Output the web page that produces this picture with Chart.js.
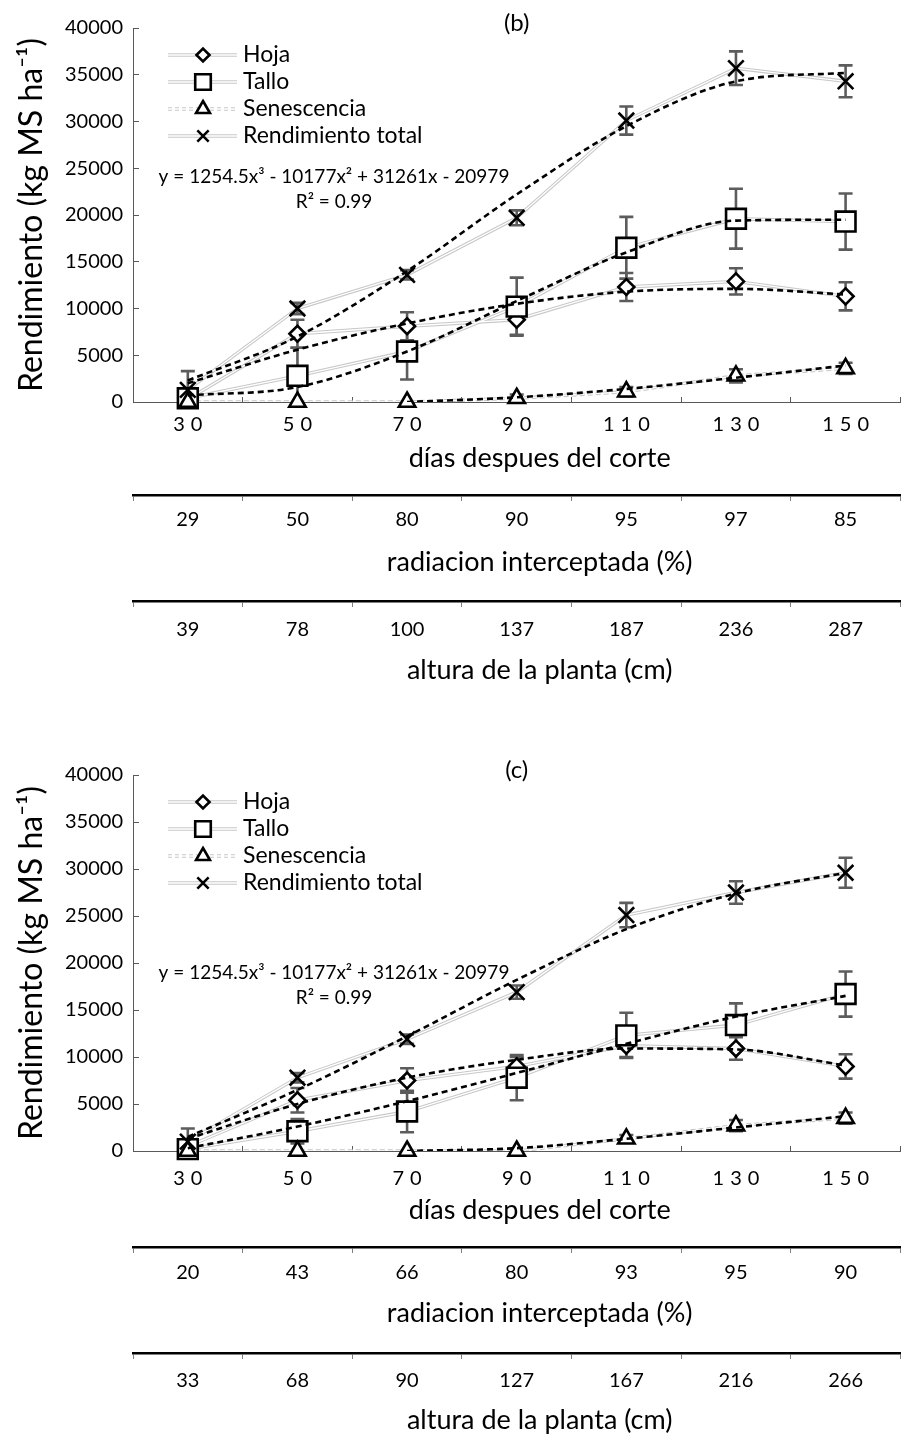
<!DOCTYPE html>
<html><head><meta charset="utf-8">
<script src="https://cdn.jsdelivr.net/npm/chart.js@4.4.1/dist/chart.umd.min.js"></script>
<style>
html,body{margin:0;padding:0;background:#fff;}
.box{position:relative;width:917px;height:719px;}
</style></head><body>
<div class="box"><canvas id="cb"></canvas></div>
<div class="box"><canvas id="cc"></canvas></div>
<script>
const FONT = "Lato, 'Open Sans', 'DejaVu Sans', sans-serif";

// ---- data ----
const categories = ['30','50','70','90','110','130','150'];
const radiacionB = ['29','50','80','90','95','97','85'];
const alturaB    = ['39','78','100','137','187','236','287'];
const radiacionC = ['20','43','66','80','93','95','90'];
const alturaC    = ['33','68','90','127','167','216','266'];
const seriesNames = ['Hoja','Tallo','Senescencia','Rendimiento total'];
const yMin = 0, yMax = 40000, yStep = 5000;
const equationText = 'y = 1254.5x³ - 10177x² + 31261x - 20979';
const r2Text = 'R² = 0.99';

// panel (b)
const hojaB        = [300, 7300, 8100, 8800, 12300, 12900, 11300];
const hojaErrB     = [500, 1500, 1500, 1600, 1500, 1400, 1500];
const talloB       = [400, 2800, 5400, 10200, 16500, 19600, 19300];
const talloErrB    = [300, 3000, 3000, 3100, 3300, 3200, 3000];
const senB         = [0, 0, 0, 400, 1100, 2800, 3600];
const senErrB      = [0, 0, 0, 400, 500, 700, 600];
const totalB       = [1300, 10000, 13600, 19700, 30100, 35700, 34300];
const totalErrB    = [2000, 600, 500, 800, 1500, 1800, 1700];
const trendHojaB   = [2000, 5600, 8400, 10500, 11800, 12100, 11500];
const trendTalloB  = [700, 1600, 5400, 10800, 16000, 19400, 19500];
const trendSenB    = [null, null, 0, 500, 1400, 2600, 3900];
const trendTotalB  = [2300, 7000, 14000, 22200, 29500, 34300, 35200];

// panel (c)
const hojaC        = [500, 5400, 7500, 9000, 11200, 10900, 9000];
const hojaErrC     = [400, 1300, 1300, 1000, 1200, 1200, 1300];
const talloC       = [200, 2100, 4200, 7800, 12300, 13400, 16700];
const talloErrC    = [300, 1300, 2200, 2400, 2400, 2300, 2400];
const senC         = [0, 0, 0, 0, 1300, 2700, 3500];
const senErrC      = [0, 0, 0, 0, 400, 600, 600];
const totalC       = [1000, 7800, 11900, 16900, 25100, 27500, 29600];
const totalErrC    = [1400, 500, 500, 700, 1300, 1200, 1600];
const trendHojaC   = [1300, 5000, 7800, 9700, 10900, 10800, 9100];
const trendTalloC  = [300, 2600, 5300, 8300, 11400, 14300, 16500];
const trendSenC    = [null, null, 0, 300, 1300, 2500, 3700];
const trendTotalC  = [1500, 6500, 12200, 18200, 23600, 27400, 29600];

// ---- styles ----
const pointStyles = ['rectRot', 'rect', 'triangle', 'crossRot'];
const pointRadii  = [8, 14, 9.5, 11];
const legendRadii = [6.5, 11, 8, 8];

function buildDatasets(vals, errs, trends) {
  const ds = [];
  for (let i = 0; i < 4; i++) {
    const dash = i === 2 ? [5, 3] : [];
    ds.push({ label: seriesNames[i], data: vals[i], borderColor: '#c8c8c8', borderWidth: 3.4,
      borderDash: dash, pointRadius: 0, pointHoverRadius: 0, order: 6, role: 'raw' });
    ds.push({ label: seriesNames[i], data: vals[i], borderColor: '#ffffff', borderWidth: 1.3,
      borderDash: dash, pointRadius: 0, pointHoverRadius: 0, order: 5, role: 'rawInner' });
    ds.push({ label: seriesNames[i], data: vals[i], showLine: false, pointStyle: pointStyles[i],
      pointRadius: pointRadii[i], pointHoverRadius: pointRadii[i], pointBorderColor: '#000',
      pointBackgroundColor: '#fff', pointBorderWidth: 2.6, order: 3 - i * 0.1, clip: false,
      errors: errs[i], role: 'marker' });
    ds.push({ label: seriesNames[i], data: trends[i], borderColor: '#000', borderWidth: 2.6,
      borderDash: [6, 4], pointRadius: 0, pointHoverRadius: 0, cubicInterpolationMode: 'monotone',
      order: 1, role: 'trend' });
  }
  return ds;
}

const errorBarPlugin = {
  id: 'errbars',
  beforeDatasetsDraw(chart) { chart.$ebDone = false; },
  beforeDatasetDraw(chart, args) {
    if (chart.$ebDone) return;
    const d0 = chart.data.datasets[args.index];
    if (!d0.errors) return;
    chart.$ebDone = true;
    const { ctx, chartArea } = chart;
    const xs = chart.scales.x, ys = chart.scales.y;
    ctx.save();
    ctx.beginPath();
    ctx.rect(chartArea.left, chartArea.top - 20, chartArea.width, chartArea.height + 20);
    ctx.clip();
    ctx.strokeStyle = '#5c5c5c';
    ctx.lineWidth = 2.6;
    chart.data.datasets.forEach(d => {
      if (!d.errors) return;
      d.data.forEach((v, j) => {
        const e = d.errors[j];
        if (!e) return;
        const px = xs.getPixelForValue(j);
        const top = ys.getPixelForValue(v + e);
        const bot = ys.getPixelForValue(Math.max(v - e, 0));
        ctx.beginPath();
        ctx.moveTo(px, top); ctx.lineTo(px, bot);
        ctx.moveTo(px - 7, top); ctx.lineTo(px + 7, top);
        if (v - e > 0) { ctx.moveTo(px - 7, bot); ctx.lineTo(px + 7, bot); }
        ctx.stroke();
      });
    });
    ctx.restore();
  }
};

const decorPlugin = {
  id: 'decor',
  beforeDraw(chart) {
    const s = chart.scales.x;
    if (s && !s.$patched) {
      const orig = s.drawLabels;
      s.drawLabels = function (ca) {
        const c = this.ctx; c.save(); c.letterSpacing = '6px'; c.translate(3, 0); orig.call(this, ca); c.restore();
      };
      s.$patched = true;
    }
    ['x', 'x2', 'x3'].forEach(id => {
      const sc = chart.scales[id];
      if (sc && !sc.$titlePatched) {
        const origT = sc.drawTitle;
        sc.drawTitle = function () {
          const c = this.ctx; c.save(); c.translate(23, 0); origT.call(this); c.restore();
        };
        sc.$titlePatched = true;
      }
    });
  },
  afterDraw(chart, args, opts) {
    const { ctx, chartArea } = chart;
    ctx.save();
    // panel label
    ctx.fillStyle = '#000';
    ctx.font = "24px " + FONT;
    ctx.textAlign = 'center';
    ctx.textBaseline = 'middle';
    ctx.fillText(opts.panel, (chartArea.left + chartArea.right) / 2, chartArea.top - 5);
    // equation
    ctx.font = "19px " + FONT;
    ctx.fillText(equationText, 334, chartArea.top + opts.eqY);
    ctx.fillText(r2Text, 334, chartArea.top + opts.eqY + 25);
    // legend
    for (let i = 0; i < 4; i++) {
      const y = chartArea.top + 27 + 27 * i;
      const dash = i === 2 ? [4, 3] : [];
      ctx.setLineDash(dash);
      ctx.strokeStyle = '#c8c8c8'; ctx.lineWidth = 3.4;
      ctx.beginPath(); ctx.moveTo(168, y); ctx.lineTo(237, y); ctx.stroke();
      ctx.strokeStyle = '#fff'; ctx.lineWidth = 1.3;
      ctx.beginPath(); ctx.moveTo(168, y); ctx.lineTo(237, y); ctx.stroke();
      ctx.setLineDash([]);
      ctx.fillStyle = '#fff'; ctx.strokeStyle = '#000'; ctx.lineWidth = 2.6;
      Chart.helpers.drawPoint(ctx, { pointStyle: pointStyles[i], radius: legendRadii[i], borderWidth: 2.6, rotation: 0 }, 203, y);
      ctx.fillStyle = '#000';
      ctx.font = "23px " + FONT;
      ctx.textAlign = 'left';
      ctx.textBaseline = 'middle';
      ctx.fillText(seriesNames[i], 243, y);
    }
    ctx.restore();
  }
};

function makeChart(id, panel, vals, errs, trends, rad, alt, L) {
  const tickFont = { family: FONT, size: 20 };
  const titleFont = { family: FONT, size: 27 };
  new Chart(document.getElementById(id), {
    type: 'line',
    data: { labels: categories, datasets: buildDatasets(vals, errs, trends) },
    plugins: [errorBarPlugin, decorPlugin],
    options: {
      responsive: true, maintainAspectRatio: false, animation: false,
      events: [],
      layout: { padding: { top: L.top, right: 6, left: 0, bottom: 0 } },
      plugins: { legend: { display: false }, tooltip: { enabled: false }, decor: { panel: panel, eqY: L.eqY } },
      scales: {
        y: {
          min: yMin, max: yMax,
          ticks: { stepSize: yStep, font: tickFont, color: '#000', padding: 16, callback: v => String(v) },
          grid: { drawOnChartArea: false, tickLength: -6, color: '#595959', lineWidth: 1 },
          border: { color: '#595959', width: 1 },
          title: { display: true, text: 'Rendimiento (kg MS ha⁻¹)', font: { family: FONT, size: 32 }, color: '#000', padding: { top: 12, bottom: 0 } },
          afterFit(s) { s.width = 133; }
        },
        x: {
          type: 'category', position: 'bottom', weight: 0, offset: true,
          grid: { offset: true, drawOnChartArea: false, tickLength: -5, color: '#595959', lineWidth: 1 },
          border: { color: '#595959', width: 1 },
          ticks: { font: tickFont, color: '#000', padding: L.xPad, maxRotation: 0, autoSkip: false },
          title: { display: true, text: 'días despues del corte', font: titleFont, color: '#000', padding: { top: 0, bottom: L.xTitle - 1.8 } },
          afterFit(s) { s.height = L.xH; }
        },
        x2: {
          type: 'category', labels: rad, position: 'bottom', weight: 1, offset: true,
          grid: { offset: true, drawOnChartArea: false, tickLength: 6, color: '#808080', lineWidth: 1 },
          border: { color: '#000', width: 2.6 },
          ticks: { font: tickFont, color: '#000', padding: L.x2Pad, maxRotation: 0, autoSkip: false },
          title: { display: true, text: 'radiacion interceptada (%)', font: titleFont, color: '#000', padding: { top: 0, bottom: L.x2Title - 1.8 } },
          afterFit(s) { s.height = L.x2H; }
        },
        x3: {
          type: 'category', labels: alt, position: 'bottom', weight: 2, offset: true,
          grid: { offset: true, drawOnChartArea: false, tickLength: 6, color: '#808080', lineWidth: 1 },
          border: { color: '#000', width: 2.6 },
          ticks: { font: tickFont, color: '#000', padding: L.x3Pad, maxRotation: 0, autoSkip: false },
          title: { display: true, text: 'altura de la planta (cm)', font: titleFont, color: '#000', padding: { top: 0, bottom: L.x3Title - 1.8 } },
          afterFit(s) { s.height = L.x3H; }
        }
      }
    }
  });
}

makeChart('cb', '(b)',
  [hojaB, talloB, senB, totalB], [hojaErrB, talloErrB, senErrB, totalErrB],
  [trendHojaB, trendTalloB, trendSenB, trendTotalB], radiacionB, alturaB,
  { top: 23, eqY: 149, xH: 93, xPad: 15.6, xTitle: 22.6, x2H: 106, x2Pad: 6.6, x2Title: 24.6, x3H: 118, x3Pad: 10.6, x3Title: 34.6 });

makeChart('cc', '(c)',
  [hojaC, talloC, senC, totalC], [hojaErrC, talloErrC, senErrC, totalErrC],
  [trendHojaC, trendTalloC, trendSenC, trendTotalC], radiacionC, alturaC,
  { top: 56, eqY: 198, xH: 96, xPad: 20.6, xTitle: 22.6, x2H: 106, x2Pad: 7.6, x2Title: 25.6, x3H: 85, x3Pad: 9.6, x3Title: 3.6 });
</script>
</body></html>
